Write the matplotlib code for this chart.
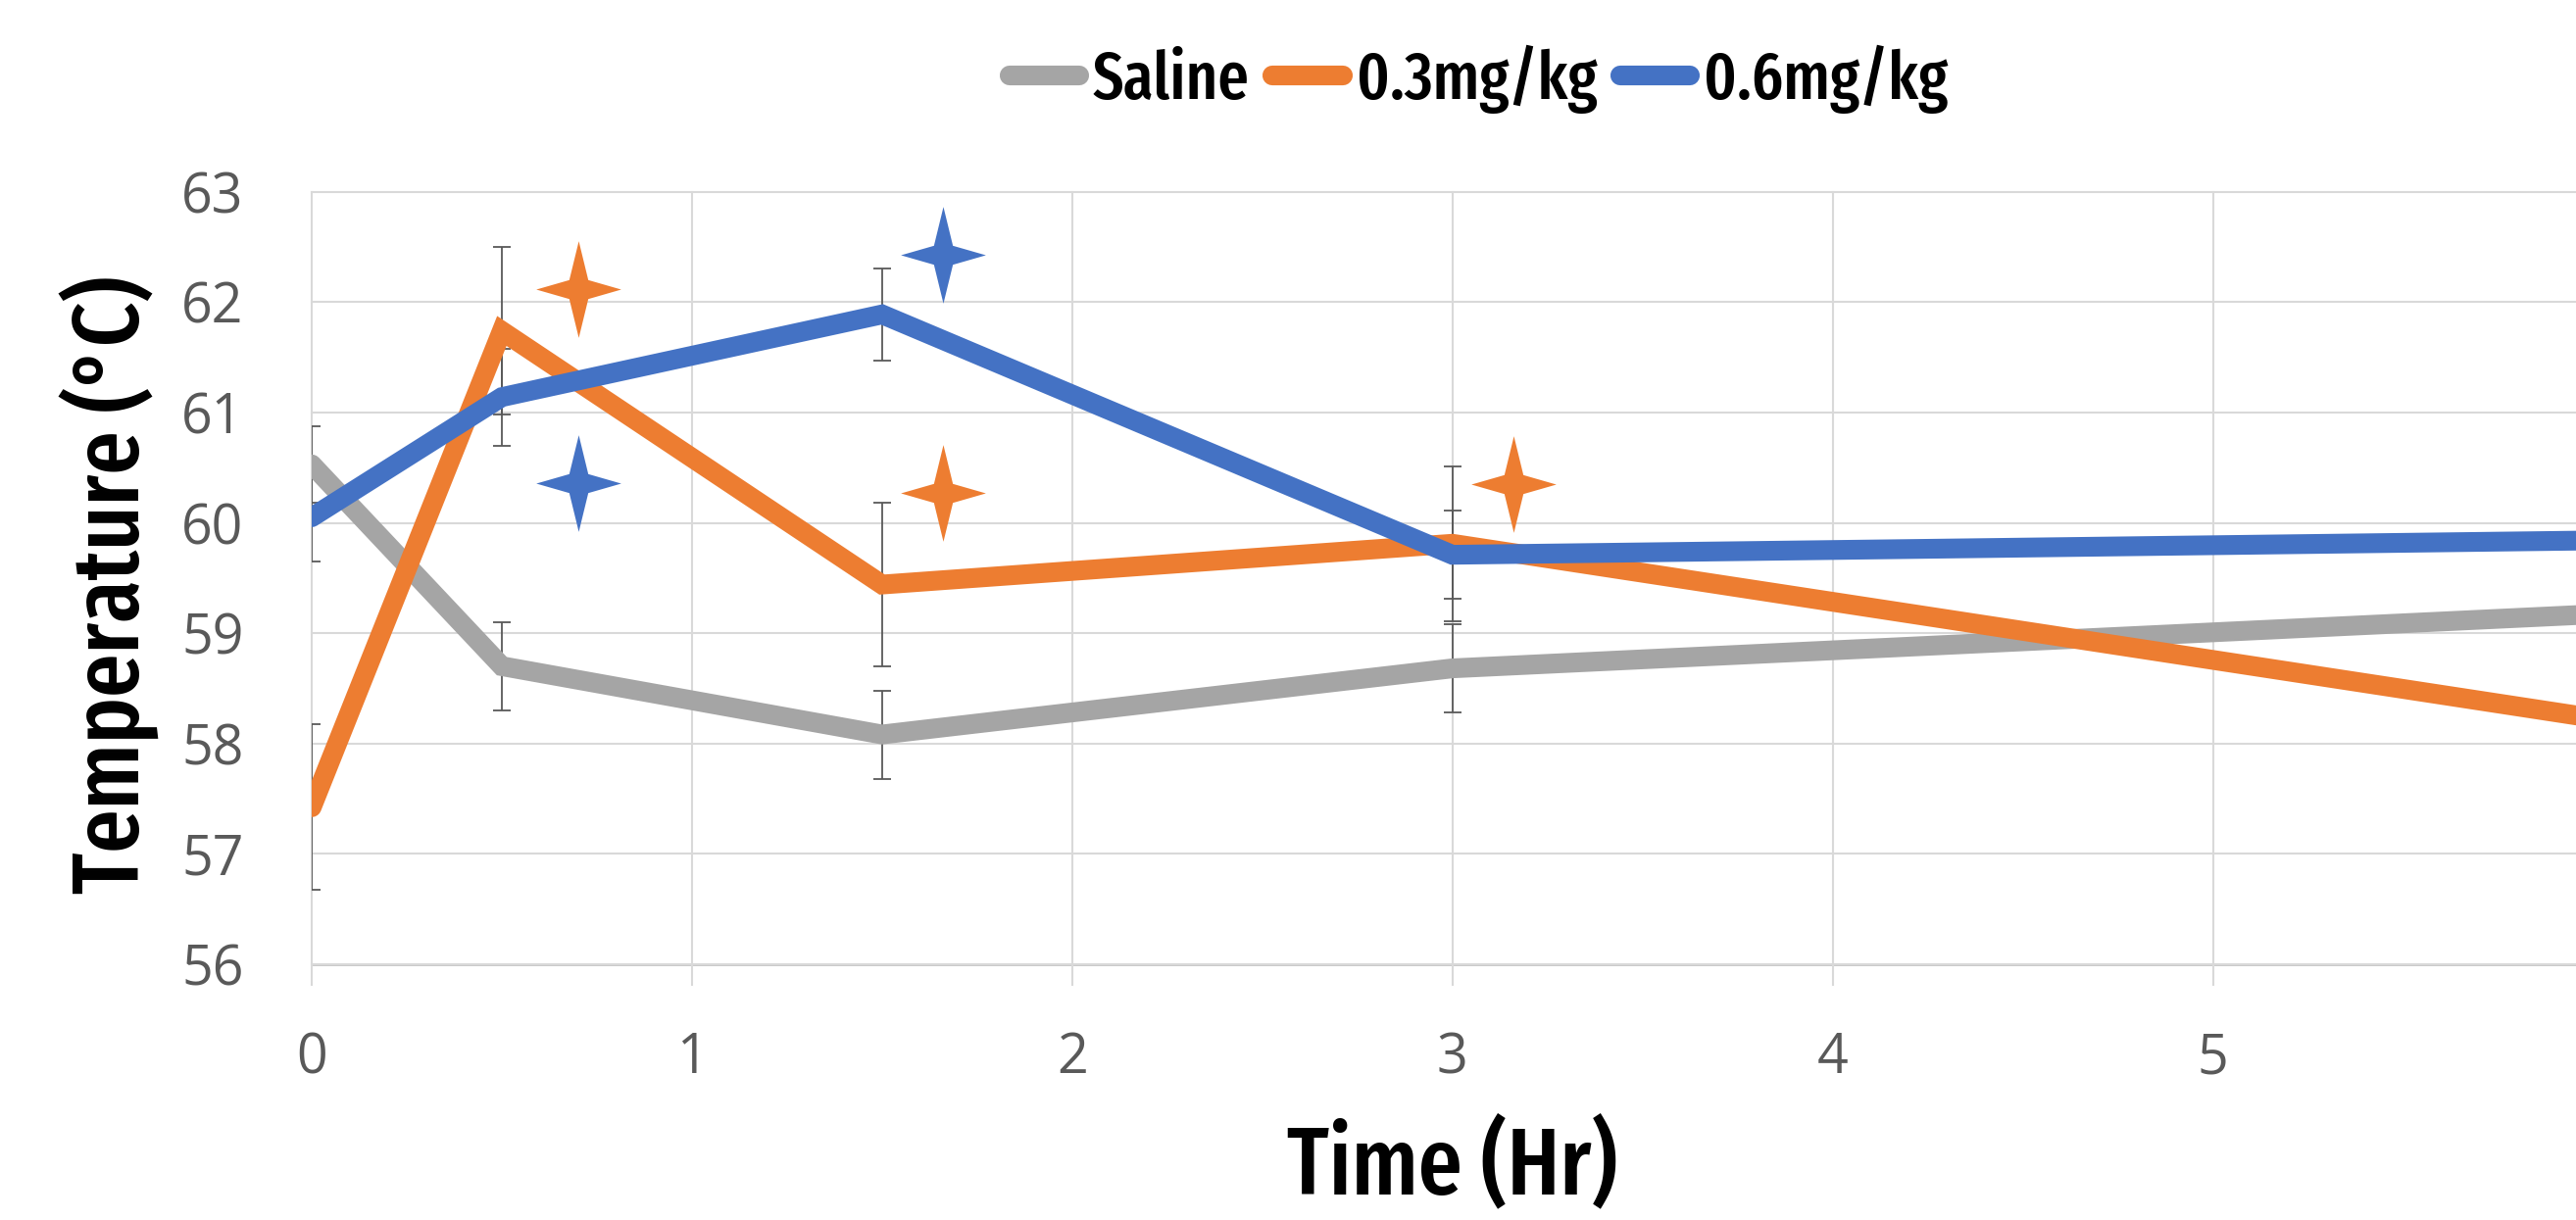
import matplotlib
matplotlib.use("Agg")
import matplotlib.pyplot as plt
from matplotlib import font_manager as fm

# data
time_hr = [0, 0.5, 1.5, 3, 6]
saline = [60.53, 58.70, 58.08, 58.68, 59.17]
saline_err = [0.35, 0.40, 0.40, 0.40, 0.40]
dose_03 = [57.42, 61.74, 59.44, 59.81, 58.23]
dose_03_err = [0.75, 0.76, 0.74, 0.70, 0.50]
dose_06 = [60.05, 61.14, 61.89, 59.71, 59.84]
dose_06_err = [0.40, 0.44, 0.42, 0.40, 0.40]
labels = ["Saline", "0.3mg/kg", "0.6mg/kg"]

# significance stars
star_x = [0.70, 0.70, 1.66, 1.66, 3.16]
star_y = [62.12, 60.36, 62.43, 60.27, 60.35]
star_series = [1, 2, 2, 1, 1]

colors = ["#A5A5A5", "#ED7D31", "#4472C4"]
tick_font = ["Open Sans", "DejaVu Sans"]


def stretch_rank(path):
    p = path.lower().replace(" ", "").replace("-", "").replace("_", "")
    if "extracondensed" in p or "ultracondensed" in p:
        return 0
    if "semicondensed" in p:
        return 2
    if "condensed" in p or "narrow" in p:
        return 1
    return 9


# look for a narrow, medium-bold face for the titles
narrow = []
for f in fm.fontManager.ttflist:
    r = stretch_rank(f.fname)
    if r == 9 or "italic" in f.fname.lower():
        continue
    w = f.weight if isinstance(f.weight, int) else 400
    narrow.append((r, abs(w - 540), f.fname))
narrow.sort()
if narrow:
    label_prop = lambda s: fm.FontProperties(fname=narrow[0][2], size=s)
else:
    label_prop = lambda s: fm.FontProperties(family="DejaVu Sans",
                                             weight="bold", size=s * 0.7)

fig = plt.figure(figsize=(26.28, 12.45), dpi=100)
ax = fig.add_axes([0.121, 0.1928, 0.879, 0.6498])

ax.set_xlim(0, 5.955)
ax.set_ylim(55.81, 63)
ax.set_xticks(range(0, 6))
ax.set_yticks(range(56, 64))
ax.grid(True, color="#D9D9D9", lw=1.5, zorder=0)
for gl in ax.get_xgridlines() + ax.get_ygridlines():
    gl.set_clip_on(False)
ax.axhline(56, color="#C4C4C4", lw=2, zorder=1)
for s in ax.spines.values():
    s.set_visible(False)
ax.tick_params(length=0, labelsize=40, labelcolor="#595959")
ax.tick_params(axis="y", pad=50)
ax.tick_params(axis="x", pad=34)
for t in ax.get_xticklabels() + ax.get_yticklabels():
    t.set_family(tick_font)

series = [saline, dose_03, dose_06]
errs = [saline_err, dose_03_err, dose_06_err]
handles = []
for vals, err, c in zip(series, errs, colors):
    ax.errorbar(time_hr, vals, yerr=err, fmt="none", ecolor="#595959",
                elinewidth=1.3, capsize=6.5, capthick=1.3, zorder=2)
    ln, = ax.plot(time_hr, vals, color=c, lw=14.5, solid_capstyle="round",
                  solid_joinstyle="miter", zorder=3)
    handles.append(ln)

# four point star marker
a = 0.21
star = [(0, 1.07), (a, a), (0.94, 0), (a, -a), (0, -1.07), (-a, -a),
        (-0.94, 0), (-a, a), (0, 1.07)]
for x, y, k in zip(star_x, star_y, star_series):
    ax.plot([x], [y], linestyle="none", marker=star, ms=71,
            color=colors[k], mew=0, zorder=4)

ax.set_xlabel("Time (Hr)", fontproperties=label_prop(70), labelpad=23)
ax.xaxis.label.set_x(3.0 / 5.955)
ax.set_ylabel("Temperature (°C)", fontproperties=label_prop(69))
ax.yaxis.set_label_coords(-0.0675, 0.505)

fig.legend(handles, labels, loc="center", bbox_to_anchor=(0.574, 0.935),
           ncol=3, frameon=False, handlelength=1.05, handletextpad=0.2,
           columnspacing=0.35, prop=label_prop(49))

fig.savefig("out.png", dpi=100)
